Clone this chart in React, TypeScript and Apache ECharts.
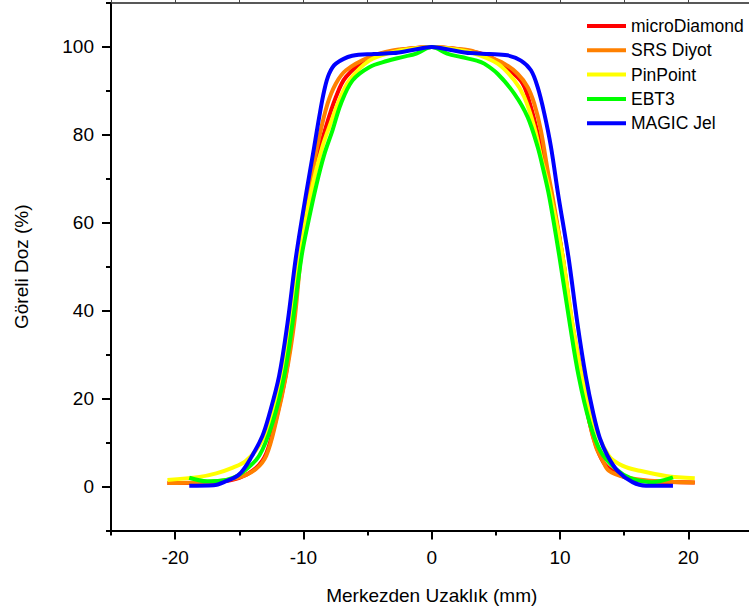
import React, { useEffect, useRef } from "react";
import * as echarts from "echarts";

const seriesNames = ["microDiamond", "SRS Diyot", "PinPoint", "EBT3", "MAGIC Jel"];
const seriesColors = ["#FF0000", "#FF8000", "#FFFF00", "#00FF00", "#0000FF"];

const redX = [-20.6, -18.5, -16.8, -15.0, -13.7, -12.9, -12.2, -11.4, -10.8, -10.25, -9.5, -9.03, -8.25, -7.47, -6.68, -4.87, -3.05, -1.5, 0, 1.5, 3.05, 4.5, 6.0, 7.08, 7.73, 8.38, 9.0, 9.6, 10.2, 10.9, 11.6, 12.3, 12.9, 13.5, 14.5, 15.5, 17.0, 20.5];
const redY = [0.8, 0.8, 1.0, 2.0, 4.2, 7.5, 14.6, 25.1, 37.2, 52.3, 66.0, 73.5, 81.8, 88.6, 93.2, 97.5, 99.0, 99.7, 100, 99.7, 99.0, 97.8, 94.8, 91.7, 86.3, 78.8, 71.0, 62.0, 52.3, 37.2, 25.1, 14.6, 8.5, 5.0, 2.8, 1.8, 1.2, 0.9];

const orangeX = [-20.6, -18.5, -16.8, -15.0, -13.7, -12.9, -12.15, -11.37, -10.72, -10.2, -9.42, -8.77, -8.12, -7.47, -6.68, -4.87, -3.05, -1.5, 0, 1.5, 3.0, 4.09, 5.65, 6.69, 7.47, 7.99, 8.5, 9.03, 9.42, 10.2, 10.95, 11.7, 12.3, 12.8, 13.3, 13.8, 15.1, 17.0, 20.5];
const orangeY = [0.8, 0.9, 1.2, 2.1, 4.0, 7.0, 14.6, 25.1, 37.2, 52.3, 69.7, 79.5, 87.1, 91.7, 94.7, 97.7, 99.2, 99.7, 100, 99.7, 99.2, 98.1, 96.2, 93.9, 90.9, 87.1, 81.1, 72.0, 65.9, 52.3, 37.2, 25.1, 14.6, 9.0, 6.0, 3.6, 2.1, 1.3, 0.9];

const yellowX = [-20.6, -18.1, -16.8, -15.5, -14.5, -13.4, -12.6, -11.7, -11.0, -10.3, -9.65, -9.05, -8.5, -7.99, -7.21, -6.43, -4.87, -3.05, -1.5, 0, 1.5, 3.0, 5.13, 6.43, 7.21, 7.99, 8.6, 9.2, 10.2, 10.95, 11.7, 12.6, 13.8, 14.9, 16.2, 18.25, 20.5];
const yellowY = [1.5, 2.2, 3.0, 4.3, 5.8, 9.5, 14.6, 25.1, 37.2, 52.3, 63.5, 71.5, 77.5, 81.8, 87.9, 92.4, 96.9, 98.8, 99.6, 100, 99.6, 98.8, 96.2, 92.4, 88.6, 81.8, 74.0, 67.0, 52.3, 37.2, 25.1, 14.6, 7.0, 4.7, 3.6, 2.4, 1.9];

const greenX = [-18.9, -17.5, -16.5, -15.5, -14.75, -13.45, -12.4, -11.5, -10.85, -10.15, -9.6, -9.0, -8.38, -7.73, -7.08, -6.17, -4.87, -3.5, -2.3, -1.2, 0, 1.2, 2.3, 3.5, 4.09, 5.13, 6.43, 7.47, 8.25, 8.7, 9.16, 9.95, 10.75, 11.45, 12.3, 13.2, 14.35, 15.5, 17.1, 18.8];
const greenY = [2.0, 1.2, 1.3, 2.0, 3.2, 7.0, 14.6, 25.1, 37.2, 52.3, 60.5, 68.5, 75.5, 81.1, 87.1, 92.4, 95.4, 96.8, 97.7, 98.5, 100, 98.5, 97.7, 96.9, 96.2, 93.9, 89.4, 84.1, 77.3, 72.0, 65.9, 52.3, 37.2, 25.1, 14.6, 7.8, 4.0, 1.9, 1.0, 2.1];

const blueX = [-18.9, -17.0, -16.2, -15.0, -14.0, -13.2, -12.7, -11.9, -11.24, -10.58, -9.8, -9.16, -8.77, -8.38, -8.0, -7.47, -6.2, -4.5, -3.0, -1.5, 0, 1.5, 3.0, 4.5, 5.9, 6.95, 7.73, 8.25, 8.77, 9.29, 9.85, 10.65, 11.35, 12.0, 12.6, 13.1, 13.7, 14.5, 15.65, 16.7, 18.8];
const blueY = [0.2, 0.3, 1.0, 2.8, 7.0, 11.5, 16.0, 25.1, 37.2, 52.3, 66.5, 77.3, 84.1, 90.1, 93.9, 96.2, 98.0, 98.4, 98.6, 99.3, 100, 99.3, 98.6, 98.4, 98.1, 96.9, 94.7, 90.9, 84.9, 77.3, 66.5, 52.3, 37.2, 25.1, 16.5, 11.0, 7.0, 3.5, 1.0, 0.2, 0.2];

const xMajorTicks = [-20, -10, 0, 10, 20];
const xMinorTicks = [-25, -15, -5, 5, 15, 25];
const yMajorTicks = [0, 20, 40, 60, 80, 100];
const yMinorTicks = [-10, 10, 30, 50, 70, 90, 110];

const xTitle = "Merkezden Uzaklık (mm)";
const yTitle = "Göreli Doz (%)";

const FONT = "'Liberation Sans', Arial, sans-serif";

function pairs(xs: number[], ys: number[]) {
  return xs.map((x, i) => [x, ys[i]]);
}

export default function App() {
  const ref = useRef<HTMLDivElement>(null);
  useEffect(() => {
    if (!ref.current) return;
    const chart = echarts.init(ref.current, undefined, { renderer: "svg" });
    const allData = [
      pairs(redX, redY),
      pairs(orangeX, orangeY),
      pairs(yellowX, yellowY),
      pairs(greenX, greenY),
      pairs(blueX, blueY),
    ];
    const axisLineStyle = { color: "#000", width: 2 };
    chart.setOption({
      animation: false,
      backgroundColor: "#fff",
      grid: { left: 111, right: 7.5, top: 3, bottom: 85.5, containLabel: false },
      legend: {
        orient: "vertical",
        left: 587,
        top: 16,
        padding: 0,
        itemWidth: 39,
        itemHeight: 4,
        itemGap: 4.3,
        icon: "rect",
        data: seriesNames,
        textStyle: { fontFamily: FONT, fontSize: 17.5, color: "#000", lineHeight: 20 },
      },
      xAxis: [
        {
          type: "value",
          position: "bottom",
          min: -25,
          max: 25,
          name: xTitle,
          nameLocation: "middle",
          nameGap: 55,
          nameTextStyle: { fontFamily: FONT, fontSize: 19, color: "#000" },
          axisLine: { show: true, onZero: false, lineStyle: axisLineStyle },
          axisTick: { show: true, inside: false, length: 9, lineStyle: { color: "#000", width: 2 }, customValues: xMajorTicks },
          axisLabel: { show: true, margin: 17, fontFamily: FONT, fontSize: 19, color: "#000", customValues: xMajorTicks },
          splitLine: { show: false },
        },
        {
          type: "value",
          position: "bottom",
          min: -25,
          max: 25,
          axisLine: { show: false, onZero: false },
          axisTick: { show: true, inside: false, length: 5, lineStyle: { color: "#000", width: 2 }, customValues: xMinorTicks },
          axisLabel: { show: false },
          splitLine: { show: false },
        },
        {
          type: "value",
          position: "top",
          min: -25,
          max: 25,
          axisLine: { show: true, onZero: false, lineStyle: { color: "#222", width: 1.5 } },
          axisTick: { show: true, inside: false, length: 3, lineStyle: { color: "#444", width: 1 }, customValues: [...xMinorTicks, ...xMajorTicks] },
          axisLabel: { show: false },
          splitLine: { show: false },
        },
      ],
      yAxis: [
        {
          type: "value",
          position: "left",
          min: -10,
          max: 110,
          name: yTitle,
          nameLocation: "middle",
          nameRotate: 90,
          nameGap: 80,
          nameTextStyle: { fontFamily: FONT, fontSize: 19, color: "#000" },
          axisLine: { show: true, onZero: false, lineStyle: axisLineStyle },
          axisTick: { show: true, inside: false, length: 9, lineStyle: { color: "#000", width: 2 }, customValues: yMajorTicks },
          axisLabel: { show: true, margin: 17, fontFamily: FONT, fontSize: 19, color: "#000", customValues: yMajorTicks },
          splitLine: { show: false },
        },
        {
          type: "value",
          position: "left",
          min: -10,
          max: 110,
          axisLine: { show: false, onZero: false },
          axisTick: { show: true, inside: false, length: 5, lineStyle: { color: "#000", width: 2 }, customValues: yMinorTicks },
          axisLabel: { show: false },
          splitLine: { show: false },
        },
      ],
      series: seriesNames.map((name, i) => ({
        name,
        type: "line",
        xAxisIndex: 0,
        yAxisIndex: 0,
        data: allData[i],
        color: seriesColors[i],
        showSymbol: false,
        symbol: "none",
        smooth: 0.35,
        lineStyle: { width: 4, color: seriesColors[i], join: "round", cap: "butt" },
        z: 2 + i,
      })),
    });
    return () => chart.dispose();
  }, []);
  return (
    <div
      ref={ref}
      style={{ position: "fixed", left: 0, top: 0, width: 760, height: 616 }}
    />
  );
}
